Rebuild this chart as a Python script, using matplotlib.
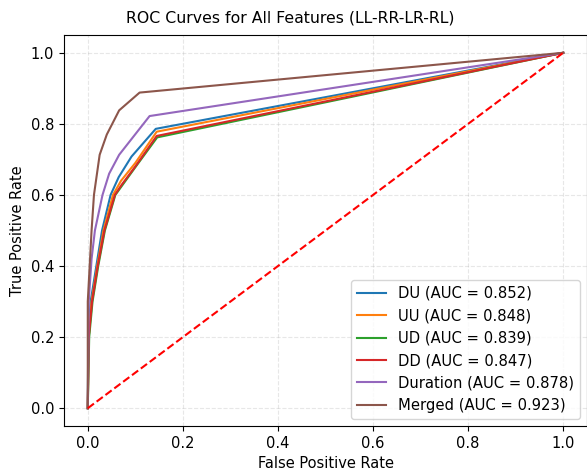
import matplotlib
matplotlib.use('Agg')
import matplotlib.pyplot as plt

# ROC points (fpr, tpr)
du_fpr = [0.0, 0.001, 0.006, 0.018, 0.030, 0.048, 0.065, 0.092, 0.143, 1.0]
du_tpr = [0.0, 0.20, 0.30, 0.40, 0.50, 0.60, 0.65, 0.708, 0.786, 1.0]

uu_fpr = [0.0, 0.002, 0.008, 0.020, 0.033, 0.053, 0.070, 0.100, 0.145, 1.0]
uu_tpr = [0.0, 0.20, 0.30, 0.40, 0.50, 0.60, 0.64, 0.69, 0.778, 1.0]

ud_fpr = [0.0, 0.003, 0.010, 0.022, 0.036, 0.058, 0.100, 0.146, 1.0]
ud_tpr = [0.0, 0.20, 0.30, 0.40, 0.50, 0.60, 0.678, 0.762, 1.0]

dd_fpr = [0.0, 0.002, 0.009, 0.021, 0.035, 0.057, 0.072, 0.100, 0.145, 1.0]
dd_tpr = [0.0, 0.20, 0.30, 0.40, 0.50, 0.60, 0.63, 0.68, 0.766, 1.0]

dur_fpr = [0.0, 0.002, 0.008, 0.015, 0.031, 0.045, 0.066, 0.130, 1.0]
dur_tpr = [0.0, 0.30, 0.42, 0.50, 0.60, 0.66, 0.713, 0.822, 1.0]

mer_fpr = [0.0, 0.0, 0.004, 0.008, 0.013, 0.025, 0.040, 0.066, 0.109, 1.0]
mer_tpr = [0.0, 0.30, 0.40, 0.50, 0.60, 0.713, 0.77, 0.838, 0.888, 1.0]

names = ['DU', 'UU', 'UD', 'DD', 'Duration', 'Merged']
aucs = [0.852, 0.848, 0.839, 0.847, 0.878, 0.923]
curves = [(du_fpr, du_tpr), (uu_fpr, uu_tpr), (ud_fpr, ud_tpr),
          (dd_fpr, dd_tpr), (dur_fpr, dur_tpr), (mer_fpr, mer_tpr)]

plt.rcParams['font.size'] = 10.5

fig = plt.figure(figsize=(5.87, 4.73), dpi=100)
ax = fig.add_axes([64 / 587, 47 / 473, 523 / 587, 391 / 473])

for name, auc, (fpr, tpr) in zip(names, aucs, curves):
    ax.plot(fpr, tpr, lw=1.5, label=f'{name} (AUC = {auc:.3f})')

ax.plot([0, 1], [0, 1], 'r--', lw=1.5)

ax.set_xlim(-0.05, 1.05)
ax.set_ylim(-0.05, 1.05)
ax.set_xlabel('False Positive Rate')
ax.set_ylabel('True Positive Rate')
# title sits a bit left of the axes centre in the reference
fig.text(290 / 587, 1 - 18 / 473, 'ROC Curves for All Features (LL-RR-LR-RL)',
         ha='center', va='center', fontsize=11.3)
ax.grid(True, linestyle='--', alpha=0.3)
ax.legend(loc='lower right', fontsize=10.6)

fig.savefig('out.png', dpi=100)
